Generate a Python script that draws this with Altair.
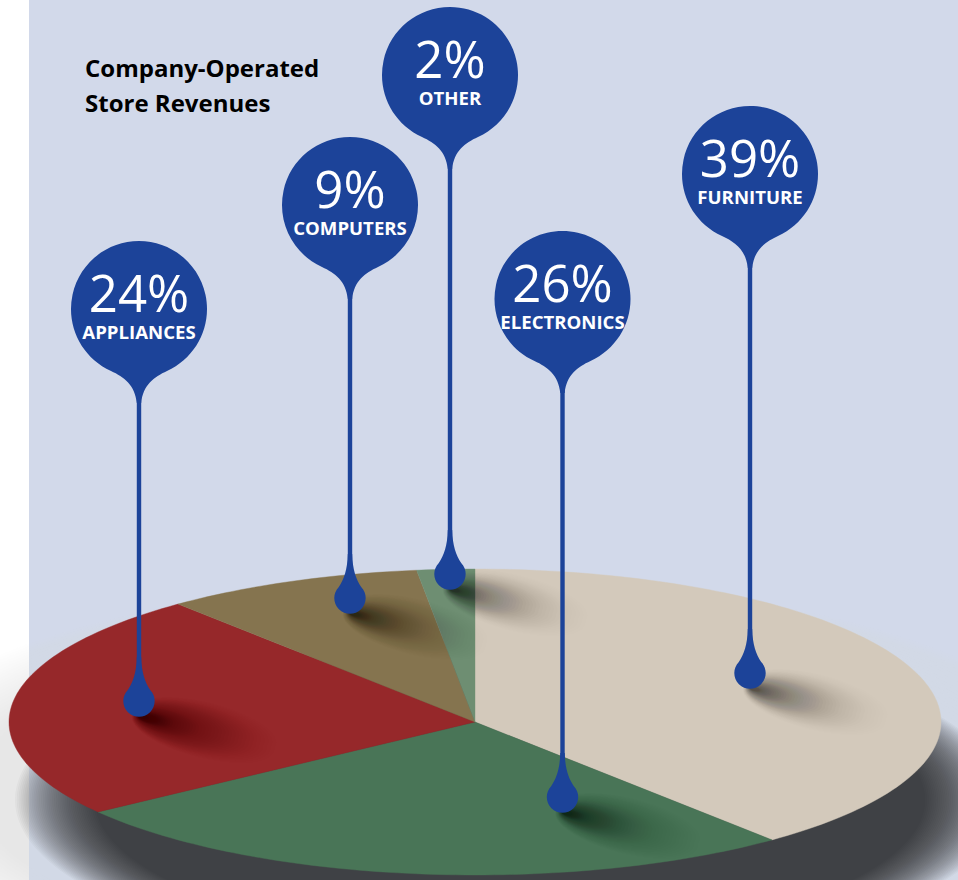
import math
import altair as alt
import pandas as pd

# Revenue split, in pie order clockwise from twelve o'clock
categories = ["FURNITURE", "ELECTRONICS", "APPLIANCES", "COMPUTERS", "OTHER"]
shares = [39, 26, 24, 9, 2]
slice_colors = ["#D3C9BB", "#497557", "#96282A", "#85744F", "#6E8E72"]

# Pin placement for each category
head_x = [750, 562.5, 139, 350, 450]
head_y = [176, 301, 311, 207, 77]
foot_y = [673, 797, 701, 598, 574]

title_lines = ["Company-Operated", "Store Revenues"]

W, H = 958, 880
CX, CY, RX, RY = 475, 722, 466, 153
BLUE = "#1C4399"

X = alt.X("x:Q", scale=alt.Scale(domain=[0, W], nice=False, zero=False), axis=None)
Y = alt.Y("y:Q", scale=alt.Scale(domain=[H, 0], nice=False, zero=False), axis=None)


def wedge(start, stop):
    """Outline of one slice on the tilted disc, shares given in percent."""
    steps = max(3, int((stop - start) * 3))
    rows = [{"x": CX, "y": CY, "i": 0}]
    for k in range(steps + 1):
        t = 2 * math.pi * (start + (stop - start) * k / steps) / 100
        rows.append({"x": CX + RX * math.sin(t), "y": CY - RY * math.cos(t), "i": k + 1})
    return rows


def ellipse_path(rx, ry):
    return f"M{-rx},0A{rx},{ry} 0 1 1 {rx},0A{rx},{ry} 0 1 1 {-rx},0Z"


def rings(cx, cy, rx_out, rx_in, n):
    """Nested ellipse sizes running from the outer to the inner radius."""
    return pd.DataFrame(
        [
            {
                "x": cx,
                "y": cy,
                "s": 4 * ((rx_out + (rx_in - rx_out) * k / (n - 1)) / 100) ** 2,
            }
            for k in range(n)
        ]
    )


layers = []

# Page panel
panel = pd.DataFrame([{"x": 29, "x2": W, "y": 0, "y2": H}])
layers.append(
    alt.Chart(panel).mark_rect(color="#D2D9EA").encode(x=X, x2="x2:Q", y=Y, y2="y2:Q")
)

# Pale glow around the disc, then the cast shadow, each built from nested ellipses
ELL = ellipse_path(100, 34)
layers.append(
    alt.Chart(rings(475, 790, 620, 500, 24))
    .mark_point(shape=ELL, filled=True, color="#F2F2EC", opacity=0.04, clip=True)
    .encode(x=X, y=Y, size=alt.Size("s:Q", scale=None))
)
layers.append(
    alt.Chart(rings(510, 800, 495, 415, 44))
    .mark_point(shape=ELL, filled=True, color="#202018", opacity=0.032, clip=True)
    .encode(x=X, y=Y, size=alt.Size("s:Q", scale=None))
)

# Pie slices
running = 0
for name, share, color in zip(categories, shares, slice_colors):
    outline = pd.DataFrame(wedge(running, running + share))
    running += share
    layers.append(
        alt.Chart(outline)
        .mark_line(interpolate="linear-closed", fill=color, stroke=color, strokeWidth=0.4)
        .encode(x=X, y=Y, order=alt.Order("i:Q"))
    )

# Soft shadows thrown by the pin feet: nested ellipses growing out of one anchor,
# faint at the far end and denser close to the foot
SHADOW = "M-6,-4A74,25 14 1 1 136,32A74,25 14 1 1 -6,-4Z"
RING_COUNT = 44
shadow_rows = []
for x, f in zip(head_x, foot_y):
    for k in range(RING_COUNT):
        c = 0.07 + 0.93 * (k / (RING_COUNT - 1)) ** 1.3
        shadow_rows.append(
            {"x": x, "y": f + 15, "s": 4 * c * c, "o": 0.004 + 0.028 * (1 - c) ** 1.4}
        )
layers.append(
    alt.Chart(pd.DataFrame(shadow_rows))
    .mark_point(shape=SHADOW, filled=True, color="#000000", clip=True)
    .encode(x=X, y=Y, size=alt.Size("s:Q", scale=None), opacity=alt.Opacity("o:Q", scale=None))
)

pins = pd.DataFrame(
    {
        "x": head_x,
        "y": head_y,
        "y2": foot_y,
        "name": categories,
        "share": [f"{s}%" for s in shares],
    }
)

# Stems
layers.append(
    alt.Chart(pins).mark_rule(color=BLUE, strokeWidth=4.4).encode(x=X, y=Y, y2="y2:Q")
)

# Round heads with a flared neck
HEAD = "M-28,60A68,68 0 1 1 28,60C15,66 4,74 2.2,92L-2.2,92C-4,74 -15,66 -28,60Z"
layers.append(
    alt.Chart(pins)
    .mark_point(shape=HEAD, filled=True, color=BLUE, opacity=1, size=4)
    .encode(x=X, y=Y)
)

# Teardrop feet
FOOT = "M-11.2,-11A15.7,15.7 0 1 0 11.2,-11C6,-19 2.6,-28 2.2,-44L-2.2,-44C-2.6,-28 -6,-19 -11.2,-11Z"
layers.append(
    alt.Chart(pins.assign(y=pins["y2"]))
    .mark_point(shape=FOOT, filled=True, color=BLUE, opacity=1, size=4)
    .encode(x=X, y=Y)
)

# Pin captions
layers.append(
    alt.Chart(pins.assign(y=pins["y"] + 1))
    .mark_text(font="Open Sans", fontSize=51, color="white", baseline="alphabetic", align="center")
    .encode(x=X, y=Y, text="share:N")
)
layers.append(
    alt.Chart(pins.assign(y=pins["y"] + 22))
    .mark_text(font="Open Sans", fontSize=18.6, fontWeight="bold", color="white", baseline="middle", align="center")
    .encode(x=X, y=Y, text="name:N")
)

# Heading
heading = pd.DataFrame({"x": [85, 85], "y": [77, 111.5], "t": title_lines})
layers.append(
    alt.Chart(heading)
    .mark_text(font="Open Sans", fontSize=24, fontWeight="bold", color="black", baseline="alphabetic", align="left")
    .encode(x=X, y=Y, text="t:N")
)

chart = (
    alt.layer(*layers)
    .properties(width=W, height=H, padding=0, autosize=alt.AutoSizeParams(type="none"), background="white")
    .configure_view(stroke=None)
)

chart.save("out.html", embed_options={"renderer": "svg", "actions": False})
